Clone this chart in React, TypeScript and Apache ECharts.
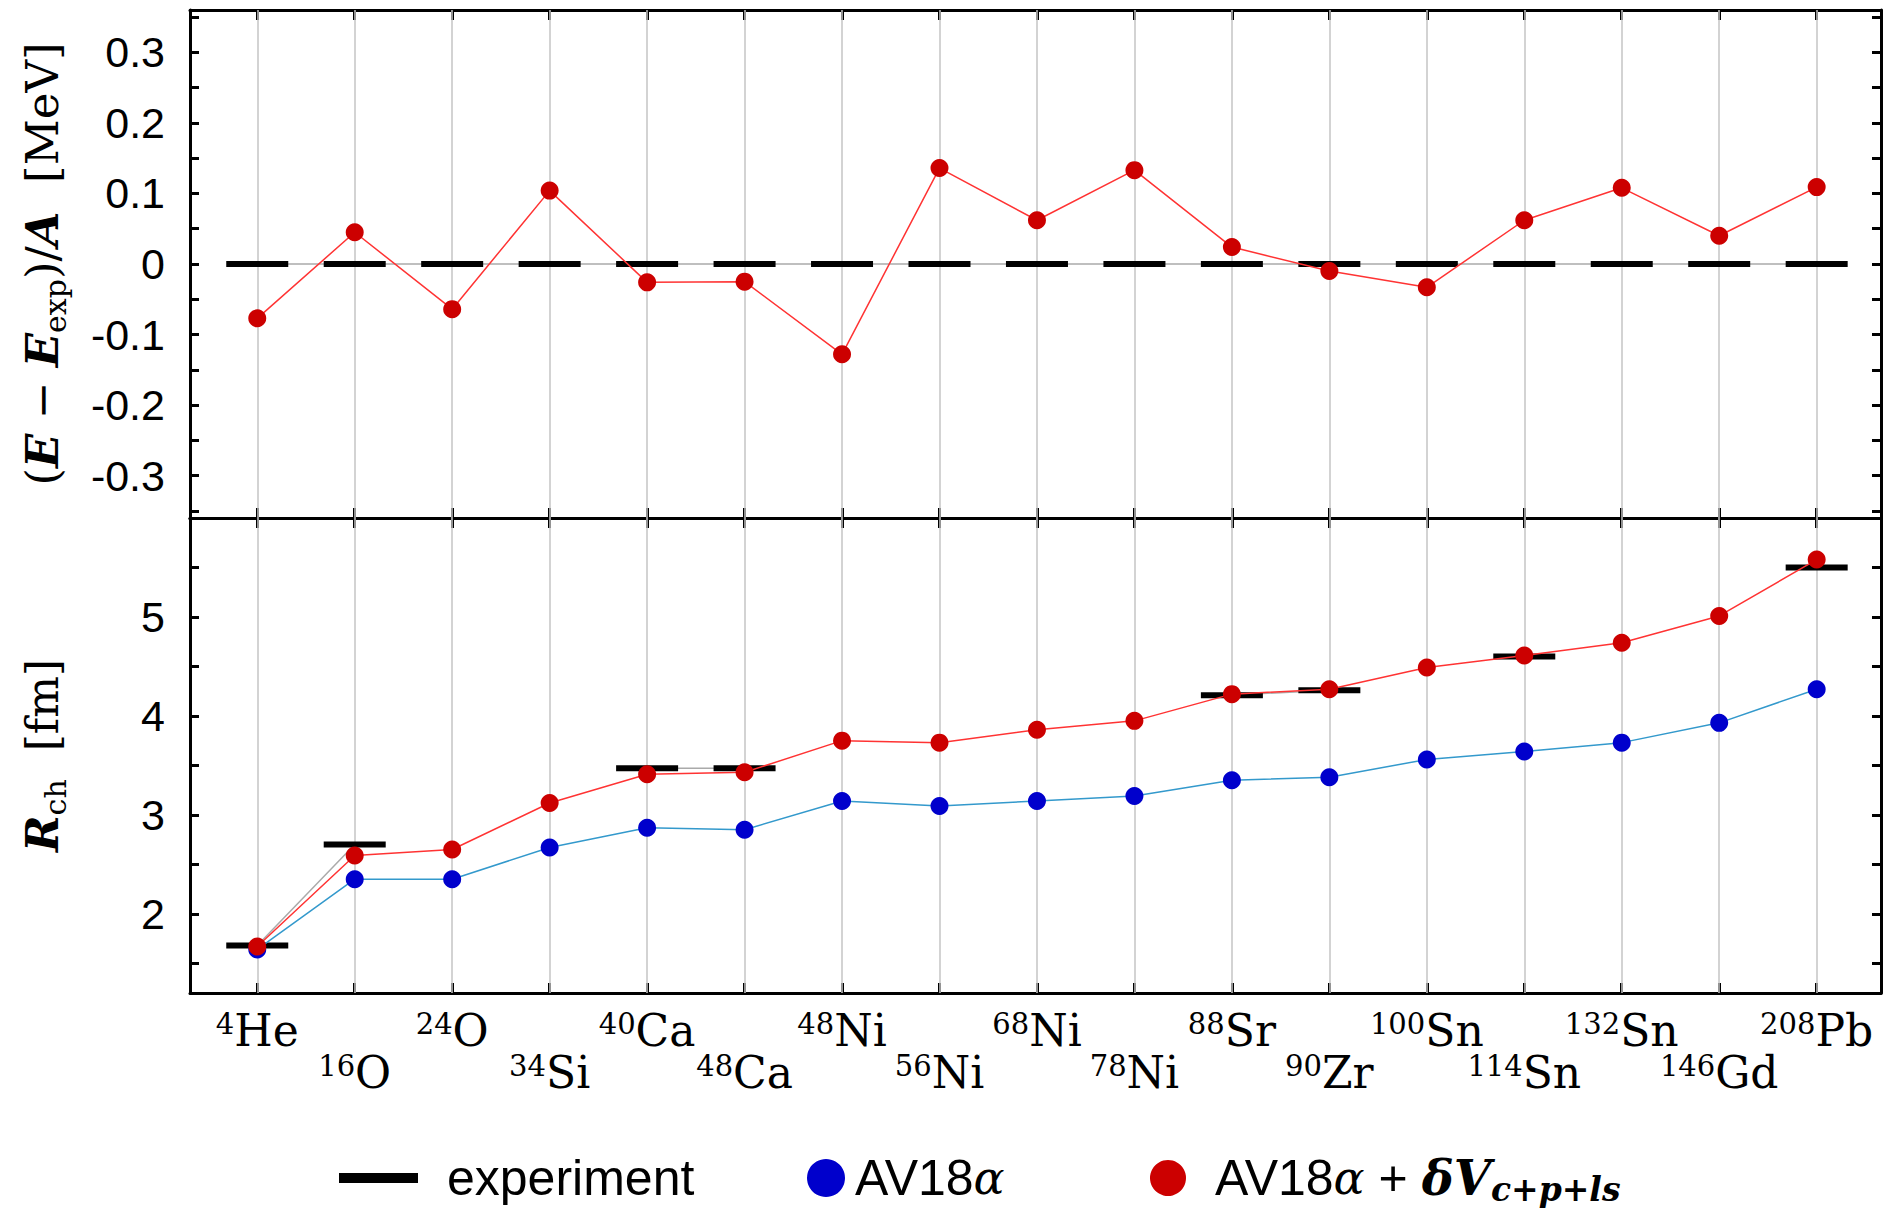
import React, { useEffect, useRef } from 'react';
import * as echarts from 'echarts';

// ---------- data ----------
const massNumbers = ['4', '16', '24', '34', '40', '48', '48', '56', '68', '78', '88', '90', '100', '114', '132', '146', '208'];
const elements = ['He', 'O', 'O', 'Si', 'Ca', 'Ca', 'Ni', 'Ni', 'Ni', 'Ni', 'Sr', 'Zr', 'Sn', 'Sn', 'Sn', 'Gd', 'Pb'];

// (E - E_exp)/A [MeV]
const energyExp = [0, 0, 0, 0, 0, 0, 0, 0, 0, 0, 0, 0, 0, 0, 0, 0, 0];
const energyAV18dV = [-0.077, 0.045, -0.064, 0.104, -0.026, -0.025, -0.128, 0.136, 0.062, 0.133, 0.024, -0.010, -0.033, 0.062, 0.108, 0.040, 0.109];

// R_ch [fm]
const radiusExp: (number | null)[] = [1.68, 2.70, null, null, 3.47, 3.47, null, null, null, null, 4.21, 4.26, null, 4.60, null, null, 5.50];
const radiusAV18 = [1.64, 2.35, 2.35, 2.67, 2.87, 2.85, 3.14, 3.09, 3.14, 3.19, 3.35, 3.38, 3.56, 3.64, 3.73, 3.93, 4.27];
const radiusAV18dV = [1.67, 2.59, 2.65, 3.12, 3.41, 3.43, 3.75, 3.73, 3.86, 3.95, 4.22, 4.27, 4.49, 4.61, 4.74, 5.01, 5.58];

// ticks / labels
const topYLabels = [-0.3, -0.2, -0.1, 0, 0.1, 0.2, 0.3];
const topYTicks = [-0.35, -0.3, -0.25, -0.2, -0.15, -0.1, -0.05, 0, 0.05, 0.1, 0.15, 0.2, 0.25, 0.3, 0.35];
const bottomYLabels = [2, 3, 4, 5];
const bottomYTicks = [1.5, 2, 2.5, 3, 3.5, 4, 4.5, 5, 5.5];

const NAME_EXP = 'experiment';
const NAME_AV18 = 'AV18α';
const NAME_AV18DV = 'AV18α + δVc+p+ls';

const SERIF = 'DejaVu Serif';
const SANS = 'Liberation Sans';

const indices = massNumbers.map((_, i) => i);
const upperRow = indices.filter((i) => i % 2 === 0);
const lowerRow = indices.filter((i) => i % 2 === 1);

export default function App() {
  const ref = useRef<HTMLDivElement>(null);

  useEffect(() => {
    if (!ref.current) return;
    const chart = echarts.init(ref.current, null, { renderer: 'svg' });

    const axisLine = { show: true, onZero: false, lineStyle: { color: '#000', width: 3 } };
    const tickLine = { color: '#000', width: 3 };

    const nucleusLabel = (values: number[], margin: number) => ({
      show: true,
      customValues: values,
      showMinLabel: true,
      showMaxLabel: true,
      margin,
      color: '#000',
      fontFamily: SERIF,
      fontSize: 44,
      lineHeight: 42,
      formatter: (v: number) => {
        const i = Math.round(v);
        return `{sup|${massNumbers[i]}}{el|${elements[i]}}`;
      },
      rich: {
        el: { fontFamily: SERIF, fontSize: 44, lineHeight: 42, color: '#000' },
        sup: { fontFamily: SERIF, fontSize: 29, lineHeight: 26, verticalAlign: 'top', color: '#000' },
      },
    });

    const xAxis = (gridIndex: number, position: string, label: any) => ({
      type: 'value',
      gridIndex,
      position,
      min: -0.69,
      max: 16.66,
      axisLine,
      axisTick: { show: true, inside: true, length: 10, lineStyle: tickLine, customValues: indices },
      axisLabel: label || { show: false },
      splitLine: { show: false },
    });

    const yAxis = (
      gridIndex: number,
      position: string,
      min: number,
      max: number,
      ticks: number[],
      labels: number[] | null,
      name?: string,
      rich?: any,
    ) => ({
      type: 'value',
      gridIndex,
      position,
      min,
      max,
      axisLine,
      axisTick: { show: true, inside: true, length: 9, lineStyle: tickLine, customValues: ticks },
      axisLabel: labels
        ? {
            show: true,
            customValues: labels,
            showMinLabel: true,
            showMaxLabel: true,
            margin: 25,
            color: '#000',
            fontFamily: SANS,
            fontSize: 43,
            formatter: (v: number) => (Math.abs(v) < 1e-9 ? '0' : Number.isInteger(v) ? String(v) : v.toFixed(1)),
          }
        : { show: false },
      splitLine: { show: false },
      name: name || '',
      nameLocation: 'middle',
      nameGap: 120,
      nameTextStyle: rich ? { rich } : undefined,
    });

    const titleRich = {
      r: { fontFamily: SERIF, fontSize: 45, lineHeight: 56, color: '#000' },
      b: { fontFamily: SERIF, fontSize: 45, fontWeight: 'bold', fontStyle: 'italic', lineHeight: 56, color: '#000' },
      s: { fontFamily: SERIF, fontSize: 30, lineHeight: 34, verticalAlign: 'bottom', color: '#000' },
    };
    const titleRichSmall = {
      r: { ...titleRich.r, fontSize: 44 },
      b: { ...titleRich.b, fontSize: 44 },
      s: titleRich.s,
    };

    const gridSeries = (idx: number) => ({
      type: 'line',
      name: 'grid' + idx,
      xAxisIndex: idx * 2,
      yAxisIndex: idx * 2,
      data: [],
      z: 1,
      silent: true,
      markLine: {
        silent: true,
        z: 1,
        symbol: ['none', 'none'],
        label: { show: false },
        emphasis: { disabled: true },
        lineStyle: { color: '#c4c4c4', width: 1.5, type: 'solid' },
        data: indices.map((i) => ({ xAxis: i })),
      },
    });

    const legendText = { fontFamily: SANS, fontSize: 50, lineHeight: 56, color: '#000' };

    const option = {
      animation: false,
      backgroundColor: '#fff',
      grid: [
        { left: 190, right: 3, top: 10, height: 508 },
        { left: 190, right: 3, top: 518, height: 475 },
      ],
      xAxis: [
        xAxis(0, 'bottom', null),
        xAxis(0, 'top', null),
        xAxis(1, 'bottom', nucleusLabel(upperRow, 16)),
        xAxis(1, 'top', null),
        {
          type: 'value',
          gridIndex: 1,
          position: 'bottom',
          min: -0.69,
          max: 16.66,
          axisLine: { show: false, onZero: false },
          axisTick: { show: false },
          splitLine: { show: false },
          axisLabel: nucleusLabel(lowerRow, 58),
        },
      ],
      yAxis: [
        yAxis(0, 'left', -0.36, 0.36, topYTicks, topYLabels,
          '{r|(}{b|E}{r| − }{b|E}{s|exp}{r|)/}{b|A}{r|  [MeV]}', titleRich),
        yAxis(0, 'right', -0.36, 0.36, topYTicks, null),
        yAxis(1, 'left', 1.2, 6.0, bottomYTicks, bottomYLabels, '{b|R}{s|ch}{r|  [fm]}', titleRichSmall),
        yAxis(1, 'right', 1.2, 6.0, bottomYTicks, null),
      ],
      legend: [
        {
          left: 339,
          top: 1150,
          padding: 0,
          itemWidth: 79,
          itemHeight: 10,
          selectedMode: false,
          data: [{ name: NAME_EXP, icon: 'rect', itemStyle: { color: '#000' } }],
          textStyle: { ...legendText, padding: [0, 0, 0, 24] },
        },
        {
          left: 807,
          top: 1150,
          padding: 0,
          itemWidth: 38,
          itemHeight: 38,
          selectedMode: false,
          data: [{ name: NAME_AV18, icon: 'circle', itemStyle: { color: '#0000cc' } }],
          formatter: () => '{g| }{t|AV18}{a|α}',
          textStyle: {
            ...legendText,
            rich: {
              g: { ...legendText, width: 5 },
              t: legendText,
              a: { fontFamily: SERIF, fontStyle: 'italic', fontSize: 46, lineHeight: 56, color: '#000' },
            },
          },
        },
        {
          left: 1150,
          top: 1150,
          padding: 0,
          itemWidth: 36,
          itemHeight: 36,
          selectedMode: false,
          data: [{ name: NAME_AV18DV, icon: 'circle', itemStyle: { color: '#cc0000' } }],
          formatter: () => '{g| }{t|AV18}{a|α}{t| + }{d|δV}{s|c+p+ls}',
          textStyle: {
            ...legendText,
            rich: {
              g: { ...legendText, width: 24 },
              t: legendText,
              a: { fontFamily: SERIF, fontStyle: 'italic', fontSize: 46, lineHeight: 56, color: '#000' },
              d: { fontFamily: SERIF, fontStyle: 'italic', fontWeight: 'bold', fontSize: 48, lineHeight: 56, color: '#000' },
              s: { fontFamily: SERIF, fontStyle: 'italic', fontWeight: 'bold', fontSize: 33, lineHeight: 36, verticalAlign: 'bottom', color: '#000' },
            },
          },
        },
      ],
      series: [
        gridSeries(0),
        {
          type: 'line',
          name: NAME_EXP,
          xAxisIndex: 0,
          yAxisIndex: 0,
          z: 2,
          data: indices.map((i) => [i, energyExp[i]]),
          symbol: 'rect',
          symbolSize: [62, 6],
          showSymbol: true,
          itemStyle: { color: '#000' },
          lineStyle: { color: '#aaaaaa', width: 1.5 },
          emphasis: { disabled: true },
        },
        {
          type: 'line',
          name: NAME_AV18DV,
          xAxisIndex: 0,
          yAxisIndex: 0,
          z: 4,
          data: indices.map((i) => [i, energyAV18dV[i]]),
          symbol: 'circle',
          symbolSize: 18,
          showSymbol: true,
          itemStyle: { color: '#cc0000' },
          lineStyle: { color: '#ff3333', width: 1.5 },
          emphasis: { disabled: true },
        },
        gridSeries(1),
        {
          type: 'line',
          name: NAME_EXP,
          xAxisIndex: 2,
          yAxisIndex: 2,
          z: 2,
          connectNulls: false,
          data: indices.map((i) => [i, radiusExp[i] == null ? '-' : radiusExp[i]]),
          symbol: 'rect',
          symbolSize: [62, 6],
          showSymbol: true,
          itemStyle: { color: '#000' },
          lineStyle: { color: '#aaaaaa', width: 1.5 },
          emphasis: { disabled: true },
        },
        {
          type: 'line',
          name: NAME_AV18,
          xAxisIndex: 2,
          yAxisIndex: 2,
          z: 3,
          data: indices.map((i) => [i, radiusAV18[i]]),
          symbol: 'circle',
          symbolSize: 18,
          showSymbol: true,
          itemStyle: { color: '#0000cc' },
          lineStyle: { color: '#3399cc', width: 1.5 },
          emphasis: { disabled: true },
        },
        {
          type: 'line',
          name: NAME_AV18DV,
          xAxisIndex: 2,
          yAxisIndex: 2,
          z: 4,
          data: indices.map((i) => [i, radiusAV18dV[i]]),
          symbol: 'circle',
          symbolSize: 18,
          showSymbol: true,
          itemStyle: { color: '#cc0000' },
          lineStyle: { color: '#ff3333', width: 1.5 },
          emphasis: { disabled: true },
        },
      ],
    };

    chart.setOption(option as any);
    return () => chart.dispose();
  }, []);

  return (
    <div
      ref={ref}
      style={{ position: 'fixed', left: 0, top: 0, width: 1884, height: 1209, background: '#fff' }}
    />
  );
}
